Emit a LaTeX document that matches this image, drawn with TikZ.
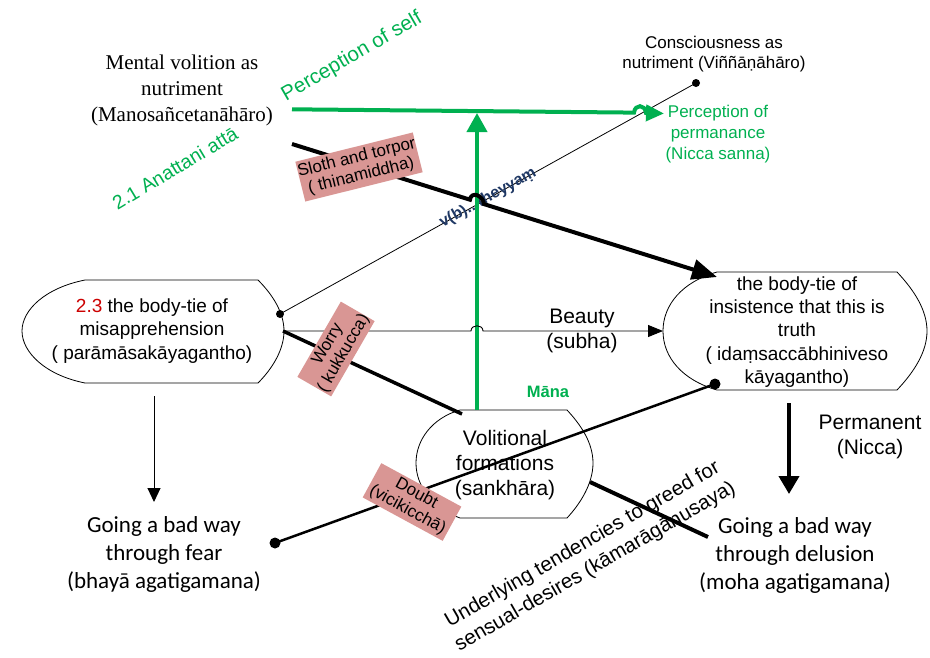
\documentclass[tikz,border=0pt]{standalone}
\usepackage{fontspec}
\setmainfont{Liberation Sans}
\newfontfamily\serifF{Liberation Serif}
\newfontfamily\calF{Carlito}
\usetikzlibrary{arrows.meta}
\definecolor{grn}{RGB}{0,176,80}
\definecolor{pinkc}{RGB}{217,150,148}
\definecolor{dblue}{RGB}{31,56,100}
\definecolor{redc}{RGB}{204,0,0}
\begin{document}
\begin{tikzpicture}[x=1pt,y=-1pt,
  shp/.style={draw=black,line width=0.8pt,fill=white},
  txt/.style={align=center,inner sep=0pt},
  pinkbox/.style={fill=pinkc,inner sep=0pt,align=center,font=\fontsize{17}{18.5}\selectfont},
  dotc/.style={circle,fill=black,inner sep=0pt,minimum size=#1},
  dotc/.default=8pt,
  thinln/.style={line width=0.8pt},
  thickln/.style={line width=4pt},
  greenln/.style={draw=grn,line width=4pt}]
\useasboundingbox (0,0) rectangle (930,657);

% shapes
\path[shp] (85,280) -- (258,280) .. controls (272,294) and (284,312) .. (284,331)
  .. controls (284,350) and (272,369) .. (258,383) -- (85,383)
  .. controls (45,375) and (22,352) .. (22,331) .. controls (22,310) and (45,288) .. (85,280) -- cycle;
\path[shp] (717,272) -- (897,272) .. controls (914,290) and (927,310) .. (927,331)
  .. controls (927,352) and (914,372) .. (897,390) -- (717,390)
  .. controls (682,380) and (663,357) .. (663,331) .. controls (663,305) and (682,282) .. (717,272) -- cycle;
\path[shp] (460,410) -- (567,410) .. controls (580,424) and (593,442) .. (593,463)
  .. controls (593,484) and (580,504) .. (567,518) -- (460,518)
  .. controls (432,508) and (416,486) .. (416,463) .. controls (416,440) and (432,418) .. (460,410) -- cycle;

% shape texts
\node[txt,font=\fontsize{19}{23.5}\selectfont] (Ltext) at (152,331)
  {\textcolor{redc}{2.3} the body-tie of\\misapprehension\\( parāmāsakāyagantho)};
\node[txt,font=\fontsize{19}{23.2}\selectfont] (Rtext) at (797,332)
  {the body-tie of\\insistence that this is\\truth\\( idaṃsaccābhiniveso\\kāyagantho)};
\node[txt,font=\fontsize{21}{25}\selectfont] (Vtext) at (505,465)
  {Volitional\\formations\\(sankhāra)};

% coordinates
\coordinate (Lr) at (283,331);
\coordinate (Rl) at (663,331);
\coordinate (Rtl) at (717,277);
\coordinate (Vtl) at (462,414);
\coordinate (Vtop) at (477,410);
\coordinate (Vr) at (590,482);
\coordinate (gs) at (292,109.3);
\coordinate (ge) at (664,113.5);
\coordinate (gv) at (477,113);
\coordinate (bs) at (292,144);
\coordinate (ue) at (708,537);
\coordinate (Lb) at (154,396);
\coordinate (fearT) at (154,502);
\coordinate (Rb) at (789,403);
\coordinate (delT) at (789,494);

% dots
\node[dotc] (dL) at (280,314) {};
\node[dotc] (dC) at (696,83) {};
\node[dotc=11pt] (dD) at (275,543) {};
\node[dotc=11pt] (dR) at (715,384) {};

% thin line and its label
\draw[thinln] (dL.center) -- (dC.center);
\node[font=\bfseries\fontsize{16}{18}\selectfont,text=dblue,rotate=29,inner sep=0pt] (vb) at (488,198) {v(b)...theyyaṃ};

% green lines
\draw[greenln,-{Triangle[length=19pt,width=20pt]}] (Vtop) -- (gv);
\draw[greenln,-{Triangle[length=18pt,width=16pt]}] (gs) -- (634,112.6)
  .. controls (635,104) and (645,104) .. (646,112.9) -- (ge);

% black thick arrow with hop
\draw[thickln,-{Triangle[length=25pt,width=20pt]}] (bs) -- (470,199.7)
  .. controls (471,191) and (483,195) .. (484,204.1) -- (Rtl);

% beauty arrow
\draw[line width=0.9pt,-{Triangle[length=15pt,width=12pt]}] (Lr) -- (471,331)
  .. controls (471,324) and (483,324) .. (483,331) -- (Rl);

% worry line
\draw[line width=3.5pt] (Lr) -- (Vtl);
% doubt line
\draw[line width=2.5pt] (dD.center) -- (dR.center);
% underlying line
\draw[thickln] (Vr) -- (ue);
% down arrows
\draw[line width=1pt,-{Triangle[length=14pt,width=13pt]}] (Lb) -- (fearT);
\draw[thickln,-{Triangle[length=18pt,width=20pt]}] (Rb) -- (delT);

% pink boxes
\node[pinkbox,rotate=14,minimum width=121pt,minimum height=41pt] (sloth) at (359,167) {Sloth and torpor\\( thinamiddha)};
\node[pinkbox,rotate=60,minimum width=85pt,minimum height=39pt] (worry) at (336,349) {Worry\\( kukkucca)};
\node[pinkbox,rotate=-28.5,minimum width=91pt,minimum height=39pt] (doubt) at (412,502) {Doubt\\(vicikicchā)};

% labels
\node[txt,font=\serifF\fontsize{21}{26}\selectfont] (mental) at (182,90)
  {Mental volition as\\nutriment\\(Manosañcetanāhāro)};
\node[txt,font=\fontsize{17}{20}\selectfont] (consc) at (714,54)
  {Consciousness as\\nutriment (Viññāṇāhāro)};
\node[txt,font=\fontsize{17}{21}\selectfont,text=grn] (pperm) at (718,134)
  {Perception of\\permanance\\(Nicca sanna)};
\node[txt,font=\fontsize{20.5}{24}\selectfont,text=grn,rotate=30] (pself) at (352,57) {Perception of self};
\node[txt,font=\fontsize{19.5}{23}\selectfont,text=grn,rotate=31] (anat) at (175,168) {2.1 Anattani attā};
\node[txt,font=\fontsize{21}{25}\selectfont] (beauty) at (582,331) {Beauty\\(subha)};
\node[txt,font=\bfseries\fontsize{16.5}{20}\selectfont,text=grn] (mana) at (548,392) {Māna};
\node[txt,font=\fontsize{21}{25}\selectfont] (perm) at (870,437) {Permanent\\(Nicca)};
\node[txt,font=\calF\fontsize{23}{28}\selectfont] (gfear) at (164,554)
  {Going a bad way\\through fear\\(bhayā agatigamana)};
\node[txt,font=\calF\fontsize{23}{28}\selectfont] (gdel) at (795,555)
  {Going a bad way\\through delusion\\(moha agatigamana)};
\node[txt,font=\fontsize{20.5}{25.5}\selectfont,rotate=30] (under) at (589,556)
  {Underlying tendencies to greed for\\sensual-desires (kāmarāgānusaya)};
\end{tikzpicture}
\end{document}
